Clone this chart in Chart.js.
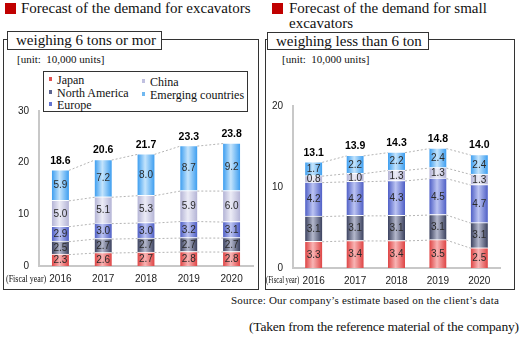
<!DOCTYPE html>
<html>
<head>
<meta charset="utf-8">
<script src="https://cdn.jsdelivr.net/npm/chart.js@4"></script>
<style>
  body { margin:0; width:524px; height:339px; overflow:hidden; background:#fff; position:relative; font-family:"Liberation Serif", serif; color:#111; }
  .abs { position:absolute; }
  .sq { position:absolute; width:11px; height:11px; background:#c00000; }
  .head { position:absolute; font-size:15px; line-height:15px; white-space:nowrap; }
  .box { position:absolute; border:1.5px solid #333; }
  .tab { position:absolute; border:1px solid #333; background:#fff; font-size:15px; line-height:17px; padding-left:8px; box-sizing:border-box; white-space:nowrap; z-index:3; }
  .unit { position:absolute; font-size:11px; white-space:nowrap; }
  .fy { position:absolute; font-size:10px; white-space:nowrap; transform-origin:left center; z-index:3; }
  .legend { position:absolute; left:43px; top:71px; width:205px; height:41px; border:1px solid #333; background:#fff; box-sizing:border-box; z-index:3; font-size:12px; }
  .li { position:absolute; white-space:nowrap; line-height:12px; }
  .li i { display:inline-block; width:3px; height:4px; margin-right:5px; vertical-align:middle; position:relative; top:-2px; }
  canvas { position:absolute; }
</style>
</head>
<body>
<div class="sq" style="left:5px;top:3px"></div>
<div class="head" style="left:21px;top:1px">Forecast of the demand for excavators</div>
<div class="sq" style="left:272px;top:3px"></div>
<div class="head" style="left:289px;top:1px">Forecast of the demand for small<br>excavators</div>

<div class="box" style="left:3px;top:39px;width:254px;height:249px"></div>
<div class="tab" style="left:7px;top:31px;width:155px;height:19px">weighing 6 tons or mor</div>
<div class="unit" style="left:17px;top:53px">[unit:&nbsp; 10,000 units]</div>

<div class="box" style="left:265px;top:39px;width:248px;height:249px"></div>
<div class="tab" style="left:267px;top:32px;width:162px;height:18px">weighing less than 6 ton</div>
<div class="unit" style="left:282px;top:53px">[unit:&nbsp; 10,000 units]</div>

<div class="legend" id="legend"></div>

<canvas id="big" width="259" height="193" style="left:0;top:95px"></canvas>
<canvas id="small" width="253" height="200" style="left:262px;top:90px"></canvas>

<div class="fy" style="left:6px;top:273px;transform:scaleX(0.8)">(Fiscal year)</div>
<div class="fy" style="left:266px;top:274px;transform:scaleX(0.66)">(Fiscal year)</div>

<div class="abs" style="left:231px;top:294px;font-size:11px;white-space:nowrap;letter-spacing:0.2px">Source: Our company’s estimate based on the client’s data</div>
<div class="abs" style="left:249px;top:319px;font-size:13.5px;white-space:nowrap;letter-spacing:-0.2px">(Taken from the reference material of the company)</div>

<script>
// annees fiscales et regions
const years = ['2016', '2017', '2018', '2019', '2020'];
const regions = ['Japan', 'North America', 'Europe', 'China', 'Emerging countries'];

// 6 tonnes ou plus
const bigJapan = [2.3, 2.6, 2.7, 2.8, 2.8];
const bigNorthAmerica = [2.5, 2.7, 2.7, 2.7, 2.7];
const bigEurope = [2.9, 3.0, 3.0, 3.2, 3.1];
const bigChina = [5.0, 5.1, 5.3, 5.9, 6.0];
const bigEmerging = [5.9, 7.2, 8.0, 8.7, 9.2];
const bigTotals = [18.6, 20.6, 21.7, 23.3, 23.8];

// moins de 6 tonnes
const smallJapan = [3.3, 3.4, 3.4, 3.5, 2.5];
const smallNorthAmerica = [3.1, 3.1, 3.1, 3.1, 3.1];
const smallEurope = [4.2, 4.2, 4.3, 4.5, 4.7];
const smallChina = [0.8, 1.0, 1.3, 1.3, 1.3];
const smallEmerging = [1.7, 2.2, 2.2, 2.4, 2.4];
const smallTotals = [13.1, 13.9, 14.3, 14.8, 14.0];

// couleurs : bord du cylindre / centre clair / marqueur de legende
const edgeColors = ['#de4444', '#3b415e', '#4f5fc6', '#b4b4d6', '#3d9ef0'];
const midColors = ['#f8b4b4', '#b4b8cc', '#bcc4f2', '#ececf6', '#c4e4fc'];
const markColors = ['#e05050', '#5c6490', '#6474d0', '#c0c0e0', '#70b8f0'];

const BAR = 17;

// legende en texte html
const legend = document.getElementById('legend');
const legendPos = [[5, 2], [5, 15], [5, 27], [98, 4], [98, 17]];
regions.forEach((r, i) => {
    const d = document.createElement('div');
    d.className = 'li';
    d.style.left = legendPos[i][0] + 'px';
    d.style.top = legendPos[i][1] + 'px';
    d.innerHTML = '<i style="background:' + markColors[i] + '"></i>' + r;
    legend.appendChild(d);
});

function cylinder(i) {
    return function (ctx) {
        const chart = ctx.chart;
        if (!chart.chartArea) return midColors[i];
        const cx = chart.scales.x.getPixelForValue(ctx.dataIndex);
        const g = chart.ctx.createLinearGradient(cx - BAR / 2, 0, cx + BAR / 2, 0);
        g.addColorStop(0, edgeColors[i]);
        g.addColorStop(0.45, midColors[i]);
        g.addColorStop(1, edgeColors[i]);
        return g;
    };
}

function makeDatasets(series) {
    return series.map((data, i) => ({
        label: regions[i],
        data: data,
        backgroundColor: cylinder(i),
        borderColor: 'rgba(255,255,255,0.9)',
        borderWidth: {top: 1, bottom: 0, left: 0, right: 0},
        borderSkipped: false,
        barThickness: BAR
    }));
}

// lignes pointillees entre les barres + etiquettes de valeurs
const decorate = {
    id: 'decorate',
    afterDatasetsDraw(chart, args, opts) {
        const ctx = chart.ctx;
        const n = chart.data.datasets.length;
        ctx.save();
        ctx.strokeStyle = '#b4b4b4';
        ctx.lineWidth = 1;
        ctx.setLineDash([2, 2]);
        for (let d = 0; d < n; d++) {
            const bars = chart.getDatasetMeta(d).data;
            for (let i = 0; i < bars.length - 1; i++) {
                const a = bars[i], b = bars[i + 1];
                ctx.beginPath();
                ctx.moveTo(a.x + a.width / 2, a.y + 0.5);
                ctx.lineTo(b.x - b.width / 2, b.y + 0.5);
                ctx.stroke();
            }
        }
        ctx.setLineDash([]);
        ctx.textAlign = 'center';
        ctx.textBaseline = 'middle';
        ctx.font = '10px "Liberation Sans", Arial, sans-serif';
        ctx.fillStyle = '#2a2a2a';
        for (let d = 0; d < n; d++) {
            const meta = chart.getDatasetMeta(d);
            meta.data.forEach((bar, i) => {
                const v = chart.data.datasets[d].data[i];
                ctx.fillText(v.toFixed(1), bar.x, (bar.y + bar.base) / 2 + 0.5);
            });
        }
        ctx.font = 'bold 10.5px "Liberation Sans", Arial, sans-serif';
        ctx.fillStyle = '#000';
        const top = chart.getDatasetMeta(n - 1).data;
        opts.totals.forEach((t, i) => {
            ctx.fillText(t.toFixed(1), top[i].x, top[i].y - 9);
        });
        ctx.restore();
    }
};

function drawChart(id, series, totals, max, padTop, padRight, yWidth, xHeight) {
    const tickFont = {family: '"Liberation Sans", Arial, sans-serif', size: 10};
    new Chart(document.getElementById(id).getContext('2d'), {
        type: 'bar',
        data: {labels: years, datasets: makeDatasets(series)},
        options: {
            responsive: false,
            animation: false,
            layout: {padding: {top: padTop, right: padRight, left: 0, bottom: 0}},
            plugins: {
                legend: {display: false},
                tooltip: {enabled: false},
                decorate: {totals: totals}
            },
            scales: {
                x: {
                    stacked: true,
                    grid: {display: false, drawTicks: false},
                    border: {display: true, color: '#c8c8c8', width: 2},
                    ticks: {font: tickFont, color: '#222', padding: 7},
                    afterFit(s) { s.height = xHeight; }
                },
                y: {
                    stacked: true,
                    min: 0,
                    max: max,
                    grid: {display: false, drawTicks: false},
                    border: {display: true, color: '#c8c8c8', width: 2},
                    ticks: {stepSize: 10, font: tickFont, color: '#222', padding: 10},
                    afterFit(s) { s.width = yWidth; }
                }
            }
        },
        plugins: [decorate]
    });
}

drawChart('big', [bigJapan, bigNorthAmerica, bigEurope, bigChina, bigEmerging], bigTotals, 30, 15, 6, 39, 22);
drawChart('small', [smallJapan, smallNorthAmerica, smallEurope, smallChina, smallEmerging], smallTotals, 20, 11, 15, 31, 22);
</script>
</body>
</html>
